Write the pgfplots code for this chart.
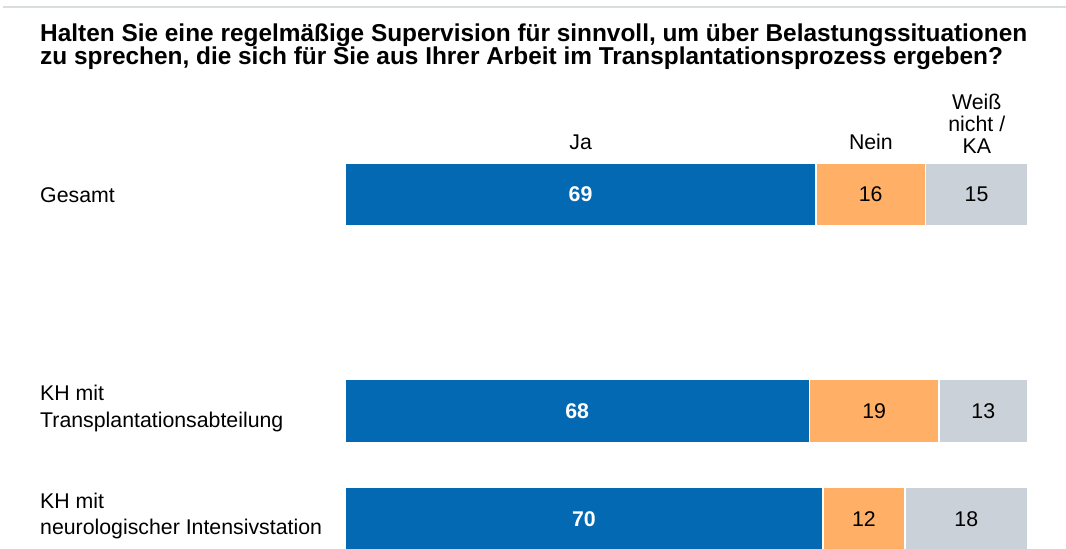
\documentclass[border=0pt]{standalone}
\usepackage{pgfplots}
\usepackage{pgfplotstable}
\pgfplotsset{compat=1.18}
\usepackage{fontspec}
\setmainfont{Liberation Sans}
\definecolor{cblue}{HTML}{0369B3}
\definecolor{corange}{HTML}{FFB066}
\definecolor{cgrey}{HTML}{CBD1D8}
\definecolor{cline}{HTML}{D8DDDF}
\pgfplotstableread{
pos ja nein wn
194.5 69 16 15
411 68 19 13
519 70 12 18
}\data
\newcommand{\bodyfont}{\fontsize{21.3bp}{23bp}\selectfont}
\newcommand{\titlefont}{\fontsize{24.4bp}{26bp}\selectfont\bfseries}
\begin{document}
\begin{tikzpicture}[x=1bp,y=1bp]
\path[use as bounding box] (0,0) rectangle (1066,549);
\fill[cline] (3,540.5) rectangle (1066,542.5);
\node[anchor=base west, inner sep=0pt, font=\titlefont] at (40,507.5) {Halten Sie eine regelmäßige Supervision für sinnvoll, um über Belastungssituationen};
\node[anchor=base west, inner sep=0pt, font=\titlefont] at (40,484) {zu sprechen, die sich für Sie aus Ihrer Arbeit im Transplantationsprozess ergeben?};
% column headers
\node[anchor=base, inner sep=0pt, font=\bodyfont] at (580.6,399) {Ja};
\node[anchor=base, inner sep=0pt, font=\bodyfont] at (870.9,399) {Nein};
\node[anchor=base, inner sep=0pt, font=\bodyfont] at (976.8,439) {Weiß};
\node[anchor=base, inner sep=0pt, font=\bodyfont] at (976.8,417) {nicht /};
\node[anchor=base, inner sep=0pt, font=\bodyfont] at (976.8,395) {KA};
% category labels
\node[anchor=base west, inner sep=0pt, font=\bodyfont] at (40,346) {Gesamt};
\node[anchor=base west, inner sep=0pt, font=\bodyfont] at (40,148) {KH mit};
\node[anchor=base west, inner sep=0pt, font=\bodyfont] at (40,121) {Transplantationsabteilung};
\node[anchor=base west, inner sep=0pt, font=\bodyfont] at (40,40) {KH mit};
\node[anchor=base west, inner sep=0pt, font=\bodyfont] at (40,14) {neurologischer Intensivstation};
\begin{axis}[
  at={(345bp,0bp)}, anchor=south west,
  scale only axis, width=682.7bp, height=549bp,
  xmin=0, xmax=100, ymin=0, ymax=549, y dir=reverse,
  hide axis, clip=false,
  xbar stacked, bar width=63,
  nodes near coords,
  point meta=explicit symbolic,
  every node near coord/.append style={font=\bodyfont, anchor=center},
]
\addplot[fill=cblue, draw=white, line width=1.5bp,
  every node near coord/.append style={text=white, font=\bodyfont\bfseries}]
  table[x=ja, y=pos, meta=ja] {\data};
\addplot[fill=corange, draw=white, line width=1.5bp,
  every node near coord/.append style={text=black}]
  table[x=nein, y=pos, meta=nein] {\data};
\addplot[fill=cgrey, draw=white, line width=1.5bp,
  every node near coord/.append style={text=black}]
  table[x=wn, y=pos, meta=wn] {\data};
\end{axis}
\end{tikzpicture}
\end{document}
